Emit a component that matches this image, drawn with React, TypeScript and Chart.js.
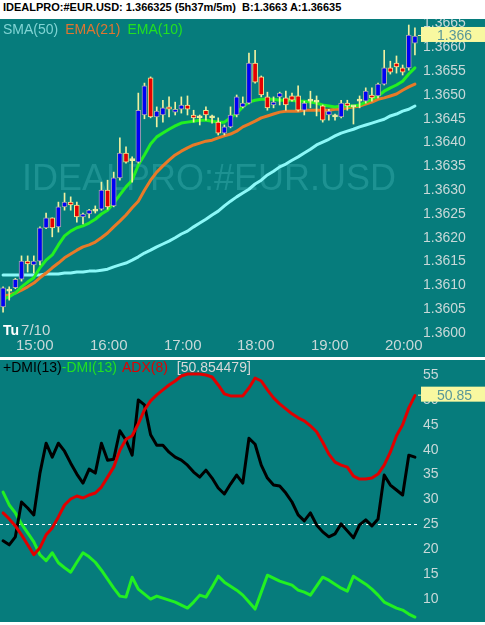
import React, { useEffect, useRef } from "react";
import { Chart, registerables } from "chart.js";

Chart.register(...registerables);

const FONT = "'Liberation Sans', Arial, Helvetica, sans-serif";

// ---------- text ----------
const TITLE = "IDEALPRO:#EUR.USD: 1.366325 (5h37m/5m)  B:1.3663 A:1.36635";
const WATERMARK = "IDEALPRO:#EUR.USD";
const DATE_DAY = "Tu";
const DATE_TEXT = "7/10";
const TOP_LEGEND = ["SMA(50)", "EMA(21)", "EMA(10)"];
const BOTTOM_LEGEND = ["+DMI(13)", "-DMI(13)", "ADX(8)", "[50.854479]"];
const PRICE_TAG = "1.366";
const ADX_TAG = "50.85";
const REF_LEVEL = 25;

// ---------- categories (5 minute bars) ----------
const TIMES = [
  "14:35", "14:40", "14:45", "14:50", "14:55",
  "15:00", "15:05", "15:10", "15:15", "15:20", "15:25", "15:30", "15:35", "15:40", "15:45", "15:50", "15:55",
  "16:00", "16:05", "16:10", "16:15", "16:20", "16:25", "16:30", "16:35", "16:40", "16:45", "16:50", "16:55",
  "17:00", "17:05", "17:10", "17:15", "17:20", "17:25", "17:30", "17:35", "17:40", "17:45", "17:50", "17:55",
  "18:00", "18:05", "18:10", "18:15", "18:20", "18:25", "18:30", "18:35", "18:40", "18:45", "18:50", "18:55",
  "19:00", "19:05", "19:10", "19:15", "19:20", "19:25", "19:30", "19:35", "19:40", "19:45", "19:50", "19:55",
  "20:00", "20:05", "20:10",
];

// ---------- price series ----------
const OPENS = [
  1.36055, 1.36088, 1.36095, 1.36113, 1.36151, 1.36143, 1.36151, 1.36221, 1.36242, 1.36223,
  1.36265, 1.36275, 1.36269, 1.36244, 1.3625, 1.36256, 1.3626, 1.363, 1.36267, 1.36326,
  1.36378, 1.36362, 1.36359, 1.36458, 1.36536, 1.36454, 1.36458, 1.36475, 1.36464, 1.3647,
  1.36479, 1.36458, 1.36452, 1.36468, 1.36454, 1.36443, 1.3642, 1.36433, 1.36458, 1.36475,
  1.36483, 1.36567, 1.36538, 1.36496, 1.36479, 1.36496, 1.36494, 1.36498, 1.36498, 1.36468,
  1.36487, 1.36487, 1.36477, 1.36458, 1.36454, 1.36454, 1.36483, 1.36475, 1.36487, 1.36487,
  1.365, 1.36498, 1.36523, 1.36557, 1.36567, 1.36557, 1.36557, 1.36609,
];
const HIGHS = [
  1.36097, 1.36097, 1.36115, 1.36162, 1.36162, 1.36162, 1.36223, 1.36252, 1.36242, 1.36275,
  1.36294, 1.36286, 1.36275, 1.36252, 1.3626, 1.36267, 1.36317, 1.36321, 1.36338, 1.3641,
  1.36391, 1.3637, 1.36504, 1.36525, 1.36538, 1.36475, 1.36489, 1.36496, 1.36485, 1.36496,
  1.36498, 1.36468, 1.36458, 1.36475, 1.36458, 1.36452, 1.36437, 1.36475, 1.365, 1.36496,
  1.36588, 1.36594, 1.3654, 1.36506, 1.36496, 1.36506, 1.36508, 1.36504, 1.36519, 1.36487,
  1.36508, 1.36498, 1.36479, 1.3647, 1.3646, 1.36489, 1.36489, 1.36477, 1.36498, 1.36515,
  1.36515, 1.36525, 1.36594, 1.36571, 1.36582, 1.36563, 1.36647, 1.36641,
];
const LOWS = [
  1.36044, 1.36069, 1.36093, 1.36109, 1.36128, 1.36126, 1.36143, 1.36219, 1.36202, 1.36212,
  1.36258, 1.36258, 1.36233, 1.36229, 1.36242, 1.36252, 1.36258, 1.3626, 1.36265, 1.36321,
  1.36357, 1.36317, 1.36357, 1.3645, 1.36452, 1.36433, 1.36443, 1.36454, 1.36458, 1.36462,
  1.36458, 1.36443, 1.36437, 1.36447, 1.36441, 1.36416, 1.36416, 1.36431, 1.36454, 1.36473,
  1.36481, 1.36525, 1.36496, 1.36468, 1.36473, 1.36479, 1.36468, 1.36487, 1.36466, 1.36458,
  1.36473, 1.36456, 1.36443, 1.36447, 1.36447, 1.36452, 1.36468, 1.36439, 1.36473, 1.36483,
  1.36487, 1.36494, 1.36521, 1.36544, 1.36546, 1.36542, 1.36552, 1.36584,
];
const CLOSES = [
  1.36095, 1.3609, 1.36113, 1.36151, 1.36145, 1.36151, 1.36221, 1.36242, 1.36221, 1.36265,
  1.36275, 1.36269, 1.36244, 1.3625, 1.36258, 1.36258, 1.363, 1.36265, 1.36326, 1.36378,
  1.36359, 1.36364, 1.36468, 1.36519, 1.36454, 1.36466, 1.36473, 1.3647, 1.3647, 1.36479,
  1.3647, 1.36452, 1.36454, 1.36458, 1.36452, 1.3642, 1.36433, 1.36458, 1.36496, 1.36483,
  1.36567, 1.36527, 1.365, 1.36473, 1.36485, 1.36504, 1.36479, 1.36489, 1.36468, 1.36483,
  1.36489, 1.36485, 1.36447, 1.36466, 1.36456, 1.36483, 1.36477, 1.36477, 1.36489, 1.36508,
  1.36494, 1.36523, 1.36557, 1.36548, 1.36559, 1.36548, 1.36626, 1.36624,
];
const SMA50 = [
  1.36122, 1.36122, 1.36122, 1.36122, 1.36122, 1.36122, 1.36122, 1.36124, 1.36124, 1.36124,
  1.36126, 1.36126, 1.36128, 1.36128, 1.3613, 1.3613, 1.36132, 1.36134, 1.36139, 1.36143,
  1.36147, 1.36153, 1.3616, 1.36168, 1.36174, 1.36181, 1.36187, 1.36193, 1.362, 1.36208,
  1.36214, 1.36223, 1.36231, 1.36239, 1.36248, 1.36256, 1.36267, 1.36277, 1.36286, 1.36294,
  1.36302, 1.36313, 1.36321, 1.36332, 1.3634, 1.36349, 1.36355, 1.36363, 1.3637, 1.36378,
  1.36386, 1.36395, 1.36401, 1.36407, 1.36414, 1.3642, 1.36424, 1.36428, 1.36433, 1.36437,
  1.36441, 1.36445, 1.36449, 1.36456, 1.3646, 1.36466, 1.3647, 1.36477,
];
const EMA21 = [
  1.36078, 1.3608, 1.36084, 1.3609, 1.36097, 1.36105, 1.36116, 1.36126, 1.36137, 1.36147,
  1.36158, 1.36166, 1.36174, 1.36181, 1.36185, 1.36191, 1.362, 1.3621, 1.36223, 1.36235,
  1.36248, 1.36263, 1.36277, 1.363, 1.36321, 1.36338, 1.36351, 1.36363, 1.36374, 1.36382,
  1.36389, 1.36395, 1.36399, 1.36403, 1.36405, 1.3641, 1.36414, 1.36418, 1.36424, 1.36433,
  1.36439, 1.36445, 1.36452, 1.36456, 1.3646, 1.36464, 1.36466, 1.36466, 1.36466, 1.36468,
  1.36468, 1.36468, 1.36468, 1.36468, 1.3647, 1.3647, 1.36473, 1.36475, 1.36477, 1.36481,
  1.36485, 1.36491, 1.36494, 1.36498, 1.36502, 1.3651, 1.36517, 1.36523,
];
const EMA10 = [
  1.36071, 1.36076, 1.36084, 1.36097, 1.36107, 1.36116, 1.36137, 1.36153, 1.36164, 1.36185,
  1.36204, 1.36214, 1.36221, 1.36225, 1.36231, 1.36239, 1.3625, 1.36258, 1.36273, 1.3629,
  1.36307, 1.36321, 1.36353, 1.36374, 1.36397, 1.36412, 1.3642, 1.36428, 1.36435, 1.36441,
  1.36443, 1.36445, 1.36447, 1.36447, 1.36445, 1.36443, 1.36443, 1.36452, 1.36462, 1.36475,
  1.36485, 1.36489, 1.36491, 1.36491, 1.36491, 1.36489, 1.36489, 1.36489, 1.36487, 1.36487,
  1.36485, 1.36483, 1.36479, 1.36477, 1.36475, 1.36477, 1.36477, 1.36477, 1.36479, 1.36485,
  1.36491, 1.36498, 1.36508, 1.36515, 1.36521, 1.36529, 1.36544, 1.36557,
];

// ---------- indicator series ----------
const PLUS_DMI = [
  21.7, 20.9, 22.5, 29.5, 28.3, 26.9, 35.3, 41.3, 38.5, 41.3,
  39.7, 37.3, 35.1, 33.3, 36.1, 35.3, 41.3, 37.9, 38.1, 43.8,
  41.9, 38.9, 50.0, 49.0, 43.0, 40.9, 40.9, 39.5, 38.5, 37.9,
  36.9, 35.5, 34.5, 35.9, 34.3, 32.3, 31.1, 33.1, 34.9, 33.3,
  42.3, 41.1, 36.9, 34.3, 32.9, 32.7, 31.3, 29.5, 26.9, 25.7,
  27.3, 24.9, 23.5, 22.5, 23.1, 25.1, 23.7, 22.3, 24.9, 25.9,
  24.7, 26.1, 34.9, 32.9, 31.9, 30.9, 38.9, 38.5,
];
const MINUS_DMI = [
  31.5, 28.9, 27.3, 25.1, 23.3, 21.5, 18.9, 17.7, 19.3, 17.3,
  16.3, 15.4, 17.4, 19.3, 18.5, 17.4, 15.8, 14.0, 12.2, 10.6,
  10.4, 14.4, 12.0, 11.0, 10.0, 10.6, 10.2, 9.8, 9.4, 8.8,
  8.2, 9.4, 10.8, 10.4, 12.4, 14.6, 13.4, 12.6, 11.8, 10.8,
  9.4, 8.0, 11.4, 14.8, 14.2, 13.6, 13.2, 12.8, 11.8, 11.4,
  10.8, 12.6, 14.4, 13.8, 13.0, 12.2, 11.6, 14.6, 13.8, 13.0,
  12.0, 10.8, 9.4, 8.8, 8.2, 7.8, 7.0, 6.4,
];
const ADX = [
  27.3, 26.1, 24.7, 22.9, 20.9, 18.9, 20.3, 22.9, 24.3, 26.5,
  28.9, 30.1, 30.7, 30.3, 30.9, 31.3, 32.5, 34.5, 36.5, 39.9,
  42.1, 42.8, 45.2, 48.0, 49.8, 51.0, 52.0, 53.0, 53.8, 54.8,
  55.2, 55.2, 55.2, 55.0, 54.6, 53.0, 51.2, 50.8, 50.8, 50.8,
  52.4, 54.4, 53.8, 52.0, 50.4, 49.2, 48.2, 47.2, 46.4, 45.8,
  44.8, 43.6, 41.5, 39.1, 37.5, 36.9, 36.5, 34.7, 34.1, 34.1,
  34.3, 35.1, 36.9, 39.5, 42.8, 45.0, 48.4, 50.85,
];

// ---------- axis ranges ----------
const PRICE_MIN = 1.3594958;
const PRICE_MAX = 1.3665966;
const PRICE_STEP = 0.0005;
const IND_MIN = 5.402;
const IND_MAX = 58.012;
const IND_STEP = 5;

// ---------- colours ----------
const BG = "#067c7c";
const WATERMARK_COLOR = "#1d9292";
const TICK_COLOR = "#c8d8d8";
const WICK = "#f0f0a0";
const UP_FILL = "#0000f4";
const DOWN_FILL = "#e60000";
const UP_BORDER = "#a8a8a8";
const DOWN_BORDER = "#f0e890";
const SMA_COLOR = "#8cf8f8";
const EMA21_COLOR = "#e87a28";
const EMA10_COLOR = "#22f022";
const PDMI_COLOR = "#000000";
const MDMI_COLOR = "#22f022";
const ADX_COLOR = "#e00000";
const TAG_FILL = "#f8f8a0";
const TAG_TEXT = "#5a9898";

function drawTag(chart: any, value: number, text: string) {
  const { ctx, chartArea } = chart;
  const y = chart.scales.y.getPixelForValue(value);
  const x0 = chartArea.right + 3;
  ctx.save();
  ctx.fillStyle = TAG_FILL;
  ctx.fillRect(x0, y - 9, chart.width - x0, 15);
  ctx.fillRect(chartArea.right, y - 1, 3, 1);
  ctx.fillStyle = TAG_TEXT;
  ctx.font = `14px ${FONT}`;
  ctx.textAlign = "center";
  ctx.textBaseline = "alphabetic";
  ctx.fillText(text, x0 + 33.5, y + 4);
  ctx.restore();
}

function yAxis(min: number, max: number, step: number, fmt: (v: number) => string | null) {
  return {
    position: "right",
    min,
    max,
    grid: { display: false, drawTicks: false },
    border: { display: false },
    ticks: {
      stepSize: step,
      includeBounds: false,
      autoSkip: false,
      maxTicksLimit: 40,
      padding: 5,
      color: TICK_COLOR,
      font: { family: FONT, size: 14 },
      callback: (v: any) => fmt(Number(v)),
    },
    afterFit: (s: any) => {
      s.width = 67;
      s.paddingTop = 0;
      s.paddingBottom = 0;
    },
  };
}

export default function App() {
  const topRef = useRef<HTMLCanvasElement>(null);
  const botRef = useRef<HTMLCanvasElement>(null);

  useEffect(() => {
    const isDoji = (i: number) => Math.abs(CLOSES[i] - OPENS[i]) < 0.000025;
    const bodyFill = OPENS.map((o, i) => (isDoji(i) ? WICK : CLOSES[i] >= o ? UP_FILL : DOWN_FILL));
    const bodyBorder = OPENS.map((o, i) => (isDoji(i) ? WICK : CLOSES[i] >= o ? UP_BORDER : DOWN_BORDER));

    const topPlugin = {
      id: "topDecor",
      beforeDraw(chart: any) {
        const { ctx, width, height } = chart;
        ctx.save();
        ctx.fillStyle = BG;
        ctx.fillRect(0, 0, width, height);
        ctx.restore();
      },
      beforeDatasetsDraw(chart: any) {
        const { ctx } = chart;
        ctx.save();
        ctx.fillStyle = WATERMARK_COLOR;
        ctx.font = `36px ${FONT}`;
        ctx.textAlign = "left";
        ctx.textBaseline = "alphabetic";
        ctx.fillText(WATERMARK, 22, 171);
        ctx.restore();
      },
      afterDraw(chart: any) {
        const { ctx, chartArea } = chart;
        const xs = chart.scales.x;
        const slot = (chartArea.right - chartArea.left) / TIMES.length;
        ctx.save();
        ctx.textBaseline = "alphabetic";
        ctx.textAlign = "left";
        // legend
        ctx.font = `14px ${FONT}`;
        const legendColors = ["#80d4d4", "#e07530", "#22e022"];
        let lx = 3;
        TOP_LEGEND.forEach((t, i) => {
          ctx.fillStyle = legendColors[i];
          ctx.fillText(t, lx, 14.5);
          lx += ctx.measureText(t).width + 7;
        });
        // date
        ctx.fillStyle = "#ffffff";
        ctx.font = `bold 14px ${FONT}`;
        ctx.fillText(DATE_DAY, 3, 316);
        const dw = ctx.measureText(DATE_DAY).width;
        ctx.fillStyle = TICK_COLOR;
        ctx.font = `15px ${FONT}`;
        ctx.fillText(DATE_TEXT, 3 + dw + 2, 316);
        // hour labels: every category that falls on the full hour
        for (let i = 0; i < TIMES.length; i++) {
          const t = TIMES[i];
          if (t.slice(-2) !== "00") continue;
          let px = Number(xs.getPixelForValue(i));
          if (!Number.isFinite(px) || px < chartArea.left) px = chartArea.left + (i + 0.5) * slot;
          const w = ctx.measureText(t).width;
          ctx.fillStyle = TICK_COLOR;
          ctx.fillText(t, Math.max(2, Math.round(px + 1 - w / 2)), 330.5);
        }
        ctx.restore();
        drawTag(chart, CLOSES[CLOSES.length - 1], PRICE_TAG);
      },
    };

    const botPlugin = {
      id: "botDecor",
      beforeDraw(chart: any) {
        const { ctx, width, height } = chart;
        ctx.save();
        ctx.fillStyle = BG;
        ctx.fillRect(0, 0, width, height);
        ctx.restore();
      },
      beforeDatasetsDraw(chart: any) {
        const { ctx, chartArea } = chart;
        const y = Math.round(chart.scales.y.getPixelForValue(REF_LEVEL)) + 0.5;
        ctx.save();
        ctx.strokeStyle = "#ffffff";
        ctx.lineWidth = 1;
        ctx.setLineDash([3, 3]);
        ctx.beginPath();
        ctx.moveTo(chartArea.left, y);
        ctx.lineTo(chartArea.right, y);
        ctx.stroke();
        ctx.restore();
      },
      afterDraw(chart: any) {
        const { ctx } = chart;
        ctx.save();
        ctx.font = `14px ${FONT}`;
        ctx.textAlign = "left";
        ctx.textBaseline = "alphabetic";
        const colors = ["#000000", "#22e022", "#e00000", "#d8d8d8"];
        const gaps = [0, 5, 9];
        let lx = 3;
        BOTTOM_LEGEND.forEach((t, i) => {
          ctx.fillStyle = colors[i];
          ctx.fillText(t, lx, 12);
          lx += ctx.measureText(t).width + (gaps[i] ?? 0);
        });
        ctx.restore();
        drawTag(chart, ADX[ADX.length - 1], ADX_TAG);
      },
    };

    const line = (data: number[], color: string, order: number) => ({
      type: "line",
      data,
      borderColor: color,
      borderWidth: 3,
      pointRadius: 0,
      tension: 0,
      borderJoinStyle: "round",
      borderCapStyle: "round",
      order,
    });

    const top = new Chart(topRef.current as HTMLCanvasElement, {
      type: "bar",
      data: {
        labels: TIMES,
        datasets: [
          line(SMA50, SMA_COLOR, 5),
          line(EMA21, EMA21_COLOR, 4),
          line(EMA10, EMA10_COLOR, 3),
          {
            type: "bar",
            data: HIGHS.map((h, i) => [LOWS[i], h]),
            backgroundColor: WICK,
            barThickness: 1,
            grouped: false,
            order: 2,
          },
          {
            type: "bar",
            data: OPENS.map((o, i) => [o, CLOSES[i]]),
            backgroundColor: bodyFill,
            borderColor: bodyBorder,
            borderWidth: 1,
            borderSkipped: false,
            barThickness: 5,
            minBarLength: 2,
            grouped: false,
            order: 1,
          },
        ] as any,
      },
      options: {
        responsive: false,
        maintainAspectRatio: false,
        animation: false,
        events: [],
        layout: { padding: 0 },
        plugins: { legend: { display: false }, tooltip: { enabled: false } },
        scales: {
          x: { display: false, offset: true },
          y: yAxis(PRICE_MIN, PRICE_MAX, PRICE_STEP, (v) => (v < 1.35999 ? null : v.toFixed(4))) as any,
        },
      },
      plugins: [topPlugin],
    } as any);

    const bot = new Chart(botRef.current as HTMLCanvasElement, {
      type: "line",
      data: {
        labels: TIMES,
        datasets: [
          line(MINUS_DMI, MDMI_COLOR, 3),
          line(PLUS_DMI, PDMI_COLOR, 2),
          line(ADX, ADX_COLOR, 1),
        ] as any,
      },
      options: {
        responsive: false,
        maintainAspectRatio: false,
        animation: false,
        events: [],
        layout: { padding: 0 },
        plugins: { legend: { display: false }, tooltip: { enabled: false } },
        scales: {
          x: { display: false, offset: true },
          y: yAxis(IND_MIN, IND_MAX, IND_STEP, (v) => String(Math.round(v))) as any,
        },
      },
      plugins: [botPlugin],
    } as any);

    return () => {
      top.destroy();
      bot.destroy();
    };
  }, []);

  return (
    <div style={{ position: "relative", width: 485, height: 625, background: "#ffffff", overflow: "hidden" }}>
      <style>{`body{margin:0;}`}</style>
      <div
        style={{
          position: "absolute",
          left: 3,
          top: 1,
          font: `bold 11px ${FONT}`,
          lineHeight: "13px",
          color: "#000",
          whiteSpace: "pre",
        }}
      >
        {TITLE}
      </div>
      <canvas
        ref={topRef}
        width={485}
        height={338}
        style={{ position: "absolute", left: 0, top: 19, width: 485, height: 338, display: "block" }}
      />
      <canvas
        ref={botRef}
        width={485}
        height={262}
        style={{ position: "absolute", left: 0, top: 360, width: 485, height: 262, display: "block" }}
      />
    </div>
  );
}
